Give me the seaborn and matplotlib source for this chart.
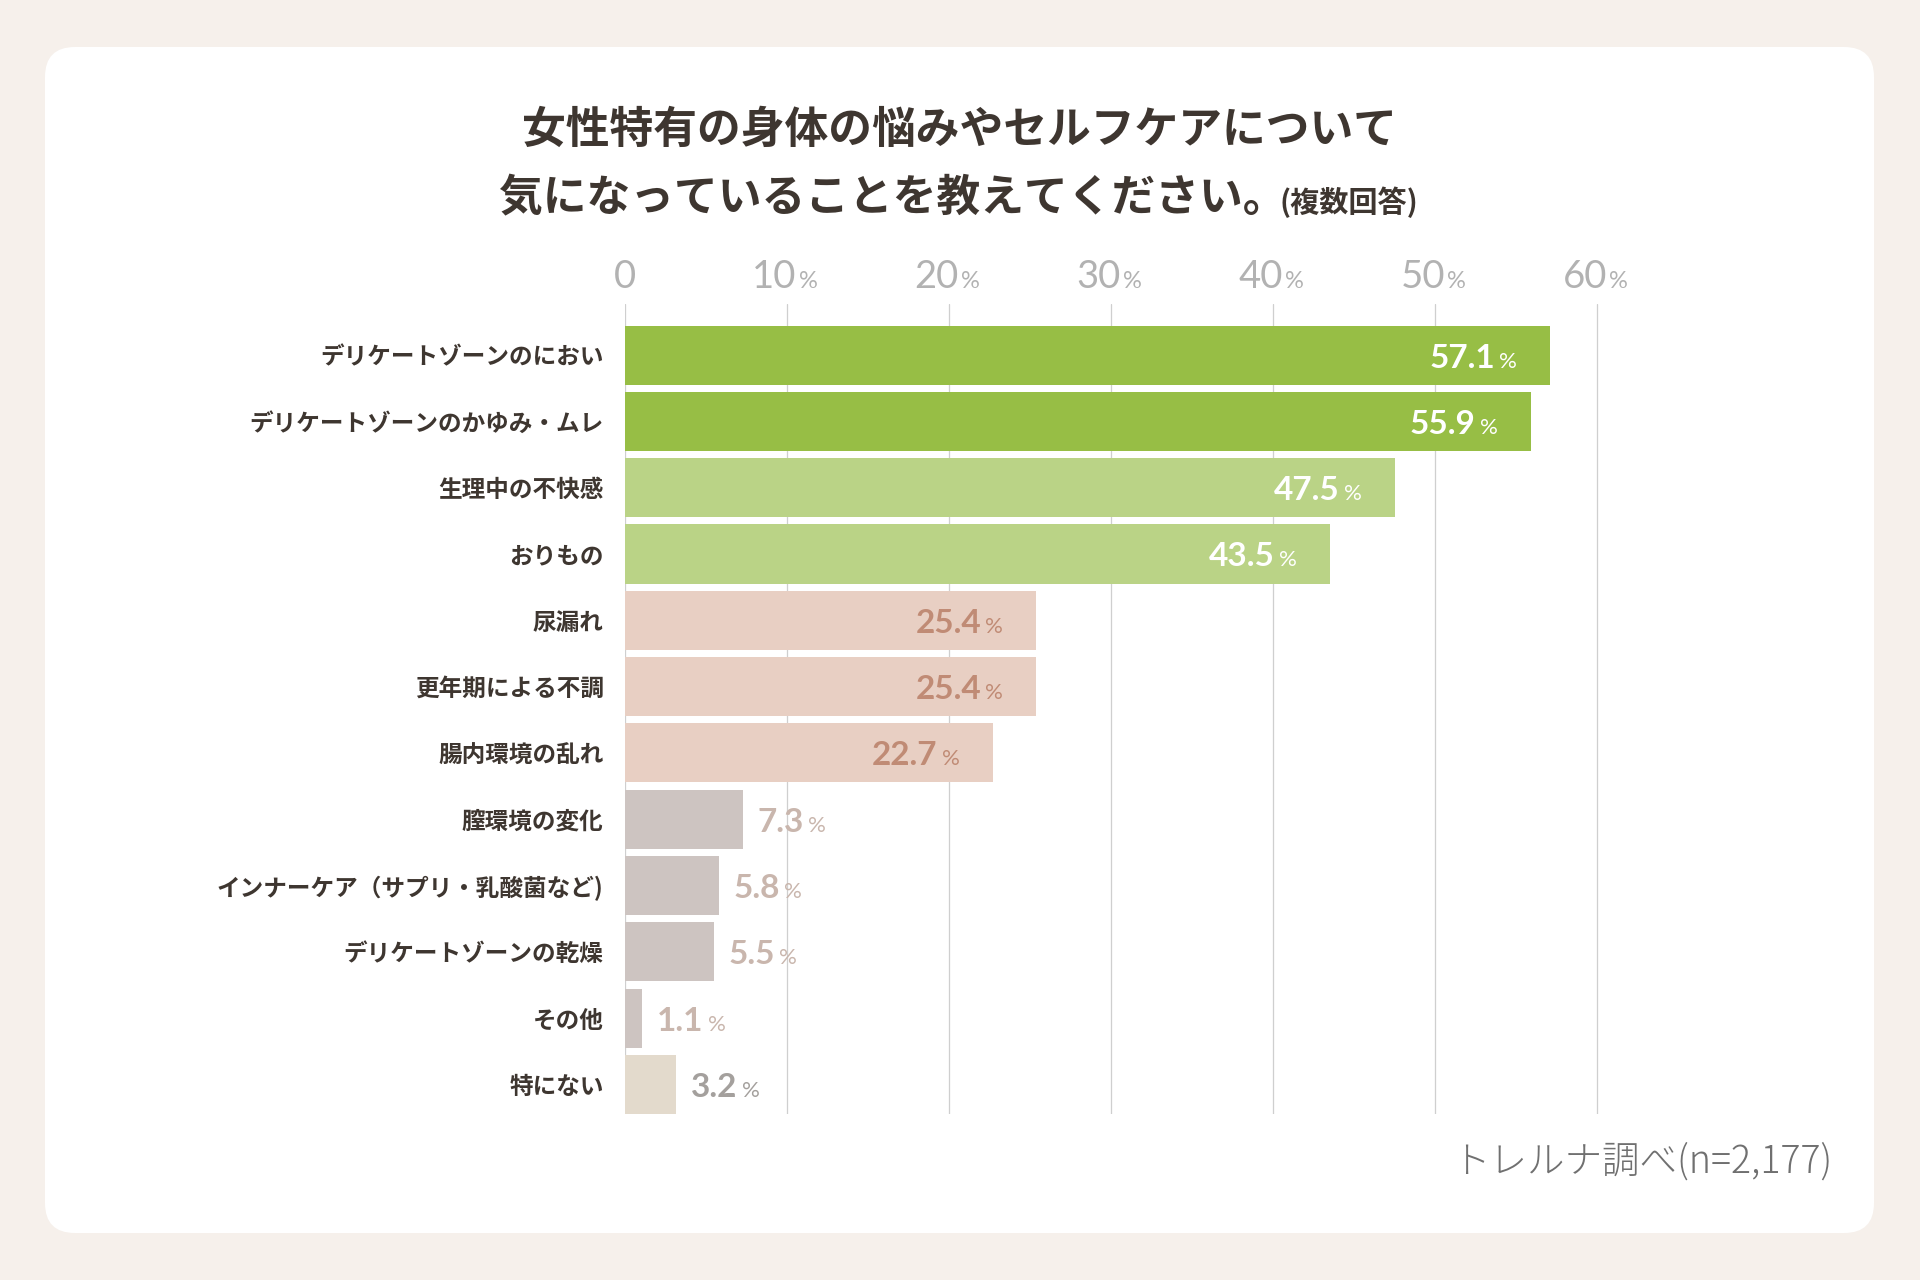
import matplotlib
matplotlib.use("Agg")
import matplotlib.pyplot as plt
import seaborn as sns
from matplotlib.patches import FancyBboxPatch
from matplotlib.transforms import offset_copy, blended_transform_factory, IdentityTransform

# ---------------- data ----------------
categories = [
    "デリケートゾーンのにおい",
    "デリケートゾーンのかゆみ・ムレ",
    "生理中の不快感",
    "おりもの",
    "尿漏れ",
    "更年期による不調",
    "腸内環境の乱れ",
    "膣環境の変化",
    "インナーケア（サプリ・乳酸菌など)",
    "デリケートゾーンの乾燥",
    "その他",
    "特にない",
]
values = [57.1, 55.9, 47.5, 43.5, 25.4, 25.4, 22.7, 7.3, 5.8, 5.5, 1.1, 3.2]
bar_colors = ["#97BE45", "#97BE45", "#BAD386", "#BAD386",
              "#E8CFC3", "#E8CFC3", "#E8CFC3",
              "#CDC4C1", "#CDC4C1", "#CDC4C1", "#CDC4C1", "#E3DACC"]
label_colors = ["#FFFFFF", "#FFFFFF", "#FFFFFF", "#FFFFFF",
                "#C08B75", "#C08B75", "#C08B75",
                "#C9B6AD", "#C9B6AD", "#C9B6AD", "#C9B6AD", "#A4A09D"]
label_inside = [True] * 7 + [False] * 5
xticks = [0, 10, 20, 30, 40, 50, 60]
title_line1 = "女性特有の身体の悩みやセルフケアについて"
title_line2 = "気になっていることを教えてください。"
title_note = "(複数回答)"
source_text = "トレルナ調べ(n=2,177)"

# ---------------- style ----------------
W, H = 1920, 1280
BG = "#F6F0EB"
TXT = "#3E3630"
sns.set_style("white")
plt.rcParams["font.family"] = ["Noto Sans CJK JP", "DejaVu Sans"]

fig = plt.figure(figsize=(W / 100, H / 100), dpi=100)
fig.patch.set_facecolor(BG)

card = FancyBboxPatch((45, 47), 1874 - 45, 1233 - 47,
                      boxstyle="round,pad=0,rounding_size=30",
                      transform=IdentityTransform(), facecolor="white",
                      edgecolor="none", zorder=0)
fig.add_artist(card)

ax = fig.add_axes([624.5 / W, 1 - 1114 / H, (1613.5 - 624.5) / W, 810 / H])
ax.patch.set_alpha(0)

sns.barplot(x=values, y=categories, hue=categories,
            palette=dict(zip(categories, bar_colors)), legend=False,
            orient="h", width=0.89, saturation=1, linewidth=0, ax=ax)

ax.set_xlim(0, 61)
ax.set_ylim(11.445, -0.77)
ax.set_xticks(xticks)
ax.grid(axis="x", color="#CFCFCF", linewidth=0.9)
ax.grid(axis="y", visible=False)
ax.set_axisbelow(True)
for s in ax.spines.values():
    s.set_visible(False)
ax.tick_params(axis="x", length=0, labelbottom=False, labeltop=False)
ax.set_xlabel("")
ax.set_ylabel("")
ax.set_yticks(range(len(categories)))
ax.set_yticklabels(categories, fontsize=17, fontweight="bold", color=TXT)
ax.tick_params(axis="y", length=0, pad=15)

# x tick labels on top
TICKC = "#B2B2B2"
ttrans = blended_transform_factory(ax.transData, fig.transFigure)
tick_y = 1 - 288 / H
tfont = dict(family=["Lato", "DejaVu Sans"], fontweight="normal", color=TICKC)
for t in xticks:
    if t == 0:
        ax.text(t, tick_y, "0", transform=ttrans, ha="center", va="baseline",
                fontsize=27.5, **tfont)
    else:
        ax.text(t, tick_y, f"{t}", transform=offset_copy(ttrans, fig=fig, x=10, units="dots"),
                ha="right", va="baseline", fontsize=27.5, **tfont)
        ax.text(t, tick_y, "%", transform=offset_copy(ttrans, fig=fig, x=12, units="dots"),
                ha="left", va="baseline", fontsize=17, **tfont)

# value labels
num_font = dict(fontsize=24, family=["Lato", "DejaVu Sans"], fontweight="bold")
pct_font = dict(fontsize=16, family=["Lato", "DejaVu Sans"], fontweight="normal")
fig.canvas.draw()
renderer = fig.canvas.get_renderer()
for i, (v, c, inside) in enumerate(zip(values, label_colors, label_inside)):
    if inside:
        ax.text(v, i, f"{v:.1f}", transform=offset_copy(ax.transData, fig=fig, x=-55, y=-12.5, units="dots"),
                ha="right", va="baseline", color=c, **num_font)
        ax.text(v, i, "%", transform=offset_copy(ax.transData, fig=fig, x=-51, y=-12.5, units="dots"),
                ha="left", va="baseline", color=c, **pct_font)
    else:
        tn = ax.text(v, i, f"{v:.1f}", transform=offset_copy(ax.transData, fig=fig, x=15, y=-12.5, units="dots"),
                     ha="left", va="baseline", color=c, **num_font)
        bb = tn.get_window_extent(renderer)
        x0 = ax.transData.transform((v, i))[0]
        ax.text(v, i, "%", transform=offset_copy(ax.transData, fig=fig, x=bb.x1 - x0 + 4, y=-12.5, units="dots"),
                ha="left", va="baseline", color=c, **pct_font)

# title
fig.text(960 / W, 1 - 130 / H, title_line1, ha="center", va="center",
         fontsize=31.5, fontweight="bold", color=TXT)
fig.text(1286 / W, 1 - 198 / H, title_line2, ha="right", va="center",
         fontsize=31.5, fontweight="bold", color=TXT)
fig.text(1280 / W, 1 - 202 / H, title_note, ha="left", va="center",
         fontsize=21, fontweight="bold", color=TXT)

# source
fig.text(1832 / W, 1 - 1162 / H, source_text, ha="right", va="center",
         fontsize=27, fontweight="light", color="#707070")

fig.savefig("out.png", dpi=100, facecolor=BG)
